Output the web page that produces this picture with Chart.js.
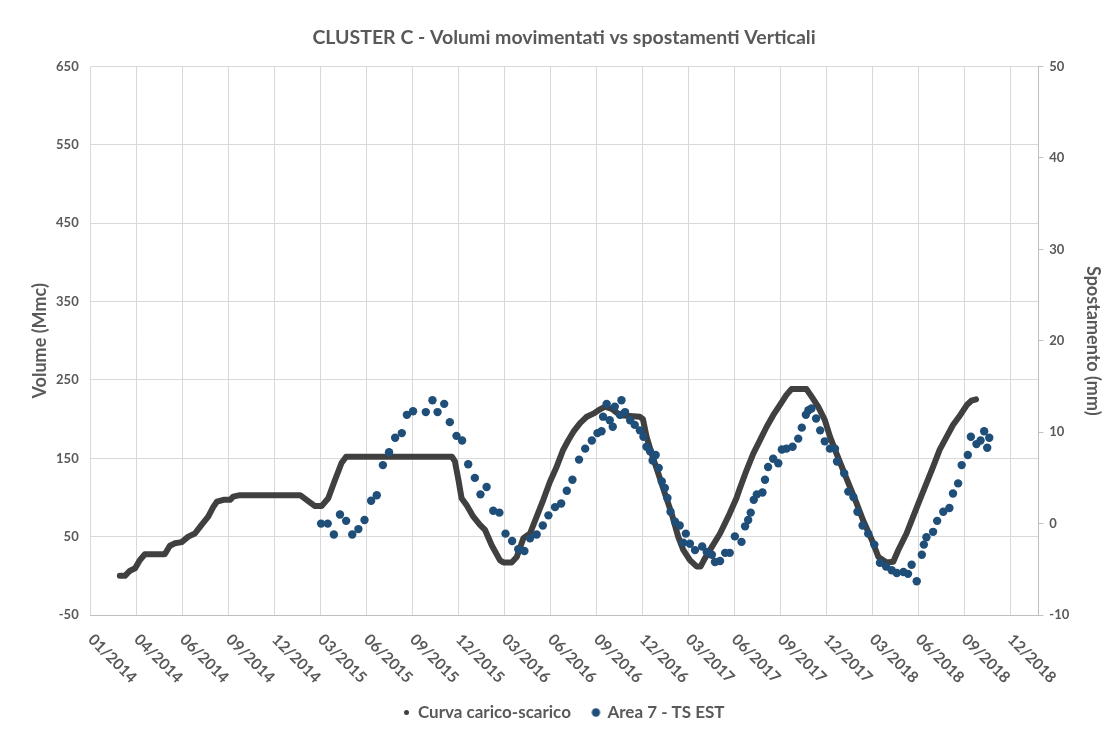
<!DOCTYPE html>
<html>
<head>
<meta charset="utf-8">
<script src="https://cdn.jsdelivr.net/npm/chart.js@4/dist/chart.umd.min.js"></script>
<style>
html,body{margin:0;padding:0;background:#ffffff;}
#wrap{width:1106px;height:731px;position:relative;}
</style>
</head>
<body>
<div id="wrap"><canvas id="c" width="1106" height="731"></canvas></div>
<script>
// ---- DATA (x values are days since 01/01/2014) ----
const xTickLabels = ['01/2014','04/2014','06/2014','09/2014','12/2014','03/2015','06/2015','09/2015','12/2015',
  '03/2016','06/2016','09/2016','12/2016','03/2017','06/2017','09/2017','12/2017','03/2018','06/2018','09/2018','12/2018'];
const xTickStepDays = 90;

// Curva carico-scarico (Volume, Mmc)
const curveDay = [57,67,77,87,96,106,145,155,165,178,191,204,217,230,240,247,260,273,279,292,410,439,452,465,478,491,500,
  707,713,720,726,736,749,762,772,785,801,808,824,834,847,860,873,886,899,912,925,935,945,958,971,984,997,1007,1020,1036,
  1075,1081,1088,1098,1111,1124,1137,1150,1160,1173,1186,1194,1202,1216,1232,1248,1264,1271,1284,1297,1310,1323,1336,1349,
  1362,1372,1401,1411,1424,1437,1447,1460,1473,1486,1499,1512,1529,1542,1558,1571,1581,1597,1610,1623,1636,1649,1662,1676,
  1688,1702,1715,1724,1733];
const curveVolume = [0,0,6.5,9.6,20,27.5,27.5,38.5,41.5,43,50,54,65,75.5,88,94.6,97,97,101,103,103,89,89,99,122,144,152,
  152,146,122,99,90,75.5,65,58.5,39,20,17,17,24,48,54,75.5,97,120,139,161,173,184,195,203,207,212.5,216,213,205,
  203,200,178,156,131,105,80,50,33,20,12,12,22,37,54,75.5,99,112,135,156,173,190,205,218,
  231,238.5,238.5,229,216,199,178,156,135,114,93,71,46,24,17,18,33,54,75.5,97,118,139,161,178,
  192.5,205,218,223.5,225.3];

// Area 7 - TS EST (Spostamento, mm)
const tsDay = [451,464,476,488,500,512,524,536,549,560,572,584,596,609,619,631,656,669,679,692,703,716,727,739,752,763,775,
  788,800,812,825,837,849,860,873,885,896,909,921,932,943,956,968,981,992,1000,1003,1010,1016,1022,1026,1036,1039,1046,
  1056,1065,1075,1082,1088,1095,1100,1106,1112,1118,1124,1129,1135,1144,1153,1160,1165,1173,1183,1197,1206,1216,1222,
  1232,1242,1251,1261,1274,1281,1287,1292,1298,1304,1315,1320,1326,1336,1346,1353,1362,1374,1385,1392,1400,1405,1411,
  1420,1428,1437,1447,1457,1461,1475,1483,1493,1501,1511,1522,1534,1545,1557,1568,1578,1591,1600,1607,1617,1627,1631,
  1636,1649,1657,1669,1681,1688,1698,1705,1717,1723,1734,1742,1749,1755,1759];
const tsMm = [0.0,0.0,-1.2,1.0,0.3,-1.2,-0.6,0.4,2.5,3.1,6.4,7.8,9.4,9.9,11.9,12.3,12.2,13.5,12.2,13.1,11.1,9.6,9.1,6.5,5.0,3.2,4.0,
  1.4,1.2,-1.1,-1.9,-2.8,-3.0,-1.6,-1.2,-0.2,0.9,1.8,2.2,3.6,4.8,7.0,8.2,9.1,9.9,10.1,11.7,13.1,11.3,10.6,12.8,11.9,13.5,12.2,
  11.3,10.8,10.2,9.5,8.4,7.9,6.9,7.5,6.1,4.6,3.9,2.8,1.3,0.2,-0.2,-2.1,-1.1,-2.2,-2.9,-2.5,-3.1,-3.4,-4.2,
  -4.1,-3.2,-3.2,-1.4,-2.0,-0.3,0.4,1.2,2.6,3.2,3.4,4.8,6.2,7.1,6.6,8.1,8.2,8.4,9.3,10.5,11.9,12.4,12.6,
  11.5,10.2,9.0,8.2,8.2,6.8,5.5,3.5,2.9,1.3,-0.2,-1.1,-2.3,-4.3,-4.7,-5.1,-5.4,-5.3,-5.5,-4.5,-6.3,-3.4,-2.3,
  -1.5,-0.9,0.3,1.3,1.7,3.3,4.4,6.4,7.5,9.5,8.7,9.1,10.1,8.3,9.4];

const volumeAxis = {min: -50, max: 650, step: 100};
const mmAxis = {min: -10, max: 50, step: 10};
const xAxisMaxDay = 1855;

// ---- STYLE ----
const GREY = '#595959';
const DARK = '#404040';
const BLUE = '#1F4E79';
const FONT = 'Lato, "Open Sans", sans-serif';
const AREA = {left: 90.7, right: 1038.3, top: 66.6, bottom: 615};
const PAD = {left: 22, right: 0, top: 0, bottom: 0};

Chart.defaults.font.family = FONT;

function dot(r, color) {
  const c = document.createElement('canvas');
  const s = Math.ceil(r * 2) + 2;
  c.width = s; c.height = s;
  const g = c.getContext('2d');
  g.fillStyle = color;
  g.beginPath(); g.arc(s / 2, s / 2, r, 0, Math.PI * 2); g.fill();
  return c;
}

const xLabelPlugin = {
  id: 'xLabels',
  afterDraw(chart) {
    const xs = chart.scales.x;
    const ctx = chart.ctx;
    ctx.save();
    ctx.font = 'bold 15.5px ' + FONT;
    ctx.fillStyle = GREY;
    ctx.textAlign = 'left';
    ctx.textBaseline = 'middle';
    xTickLabels.forEach((lab, i) => {
      const px = xs.getPixelForValue(i * xTickStepDays);
      ctx.save();
      ctx.translate(px, chart.chartArea.bottom + 22);
      ctx.rotate(Math.PI / 4);
      ctx.fillText(lab, 0, 0);
      ctx.restore();
    });
    ctx.restore();
  }
};

new Chart(document.getElementById('c'), {
  type: 'scatter',
  data: {
    datasets: [
      {
        label: 'Curva carico-scarico',
        data: curveDay.map((d, i) => ({x: d, y: curveVolume[i]})),
        yAxisID: 'y',
        showLine: true,
        borderColor: DARK,
        backgroundColor: DARK,
        borderWidth: 6,
        borderCapStyle: 'round',
        borderJoinStyle: 'round',
        pointRadius: 0,
        tension: 0,
        order: 1
      },
      {
        label: 'Area 7 - TS EST',
        data: tsDay.map((d, i) => ({x: d, y: tsMm[i]})),
        yAxisID: 'y1',
        showLine: false,
        backgroundColor: BLUE,
        borderColor: BLUE,
        borderWidth: 0,
        pointRadius: 4.2,
        order: 0
      }
    ]
  },
  options: {
    responsive: false,
    animation: false,
    events: [],
    layout: {padding: PAD},
    plugins: {
      title: {
        display: true,
        text: 'CLUSTER C - Volumi movimentati vs spostamenti Verticali',
        color: GREY,
        font: {size: 19.5, weight: 'bold', family: FONT},
        padding: {top: 26.3, bottom: 16.9}
      },
      legend: {
        position: 'bottom',
        labels: {
          usePointStyle: true,
          boxWidth: 6,
          boxHeight: 6,
          padding: 22,
          color: GREY,
          font: {size: 17, weight: 'bold', family: FONT},
          generateLabels(chart) {
            return [
              {text: 'Curva carico-scarico', fillStyle: DARK, strokeStyle: DARK, lineWidth: 0, pointStyle: dot(2.5, DARK), datasetIndex: 0, hidden: false, fontColor: GREY},
              {text: 'Area 7 - TS EST', fillStyle: BLUE, strokeStyle: BLUE, lineWidth: 0, pointStyle: dot(4.2, BLUE), datasetIndex: 1, hidden: false, fontColor: GREY}
            ];
          }
        }
      },
      tooltip: {enabled: false}
    },
    scales: {
      x: {
        type: 'linear',
        min: 0,
        max: xAxisMaxDay,
        afterBuildTicks(s) { s.ticks = xTickLabels.map((_, i) => ({value: i * xTickStepDays})); },
        afterFit(s) {
          const lh = s.chart.legend ? s.chart.legend.height : 40;
          s.height = 731 - PAD.bottom - lh - AREA.bottom;
        },
        ticks: {display: false},
        grid: {color: '#d9d9d9', drawTicks: false, lineWidth: 1},
        border: {color: '#bfbfbf', width: 1}
      },
      y: {
        position: 'left',
        min: volumeAxis.min,
        max: volumeAxis.max,
        afterBuildTicks(s) {
          const t = [];
          for (let v = volumeAxis.min; v <= volumeAxis.max; v += volumeAxis.step) t.push({value: v});
          s.ticks = t;
        },
        afterFit(s) { s.width = AREA.left - PAD.left; },
        ticks: {color: GREY, font: {size: 13, weight: 'bold'}, padding: 12},
        grid: {color: '#d9d9d9', drawTicks: false},
        border: {display: false},
        title: {display: true, text: 'Volume (Mmc)', color: GREY, font: {size: 18, weight: 'bold'}, padding: {top: 7.2, bottom: 0}}
      },
      y1: {
        position: 'right',
        min: mmAxis.min,
        max: mmAxis.max,
        afterBuildTicks(s) {
          const t = [];
          for (let v = mmAxis.min; v <= mmAxis.max; v += mmAxis.step) t.push({value: v});
          s.ticks = t;
        },
        afterFit(s) { s.width = 1106 - PAD.right - AREA.right; },
        ticks: {color: GREY, font: {size: 13, weight: 'bold'}, padding: 6},
        grid: {drawOnChartArea: false, drawTicks: true, tickLength: 5, color: '#bfbfbf'},
        border: {color: '#bfbfbf', width: 1},
        title: {display: true, text: 'Spostamento (mm)', color: GREY, font: {size: 18, weight: 'bold'}, padding: {top: 2.2, bottom: 0}}
      }
    }
  },
  plugins: [xLabelPlugin]
});
</script>
</body>
</html>
